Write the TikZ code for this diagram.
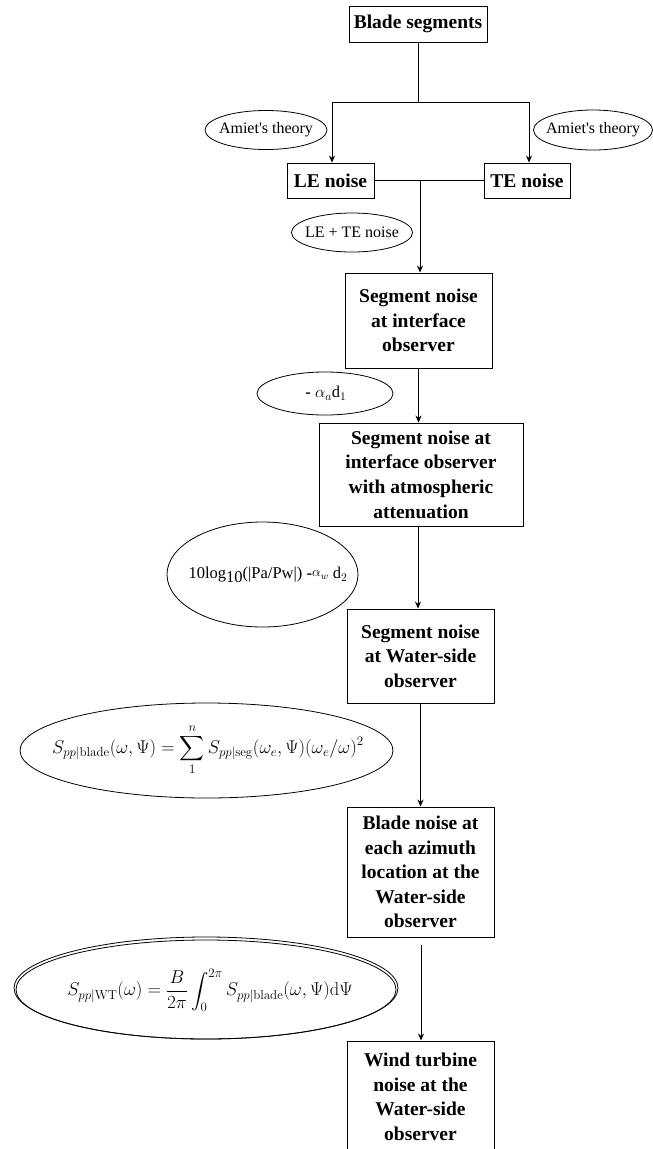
\documentclass[tikz,border=0pt]{standalone}
\usepackage{fix-cm}
\usepackage{exscale}
\usepackage[no-math]{fontspec}
\setmainfont{Liberation Serif}
\usetikzlibrary{arrows.meta,shapes.geometric}
\begin{document}
\begin{tikzpicture}[x=1pt,y=-1pt,
  box/.style={draw,line width=0.9pt,align=center,inner sep=0pt,
    font=\bfseries\fontsize{19.5}{24.6}\selectfont},
  lbl/.style={inner sep=0pt,font=\fontsize{16}{19}\selectfont},
  fml/.style={inner sep=0pt,font=\fontsize{18.5}{22}\selectfont},
  ell/.style={line width=0.8pt},
  conn/.style={line width=0.9pt},
  arr/.style={conn,-{Stealth[length=7pt,width=6pt]}}]
\useasboundingbox (0,0) rectangle (653,1149);
\clip (0,0) rectangle (653,1149);

% boxes
\node[box,minimum width=138pt,minimum height=36pt] (bs) at (418,24) {Blade segments};
\node[box,minimum width=87pt,minimum height=35pt] (le) at (330.5,180.5) {LE noise};
\node[box,minimum width=86pt,minimum height=35pt] (te) at (527,180.5) {TE noise};
\node[box,minimum width=147pt,minimum height=95pt] (s1) at (418.5,320.5) {Segment noise\\at interface\\observer};
\node[box,minimum width=204pt,minimum height=103pt] (s2) at (421,474.5) {Segment noise at\\interface observer\\with atmospheric\\attenuation};
\node[box,minimum width=147pt,minimum height=94pt] (s3) at (420.5,656) {Segment noise\\at Water-side\\observer};
\node[box,minimum width=147pt,minimum height=130pt] (bn) at (420.5,872) {Blade noise at\\each azimuth\\location at the\\Water-side\\observer};
\node[box,minimum width=147pt,minimum height=112pt] (wt) at (420.5,1097) {Wind turbine\\noise at the\\Water-side\\observer};

% labels in ellipses
\node[lbl] (am1) at (266,130) {Amiet\textquotesingle s theory};
\draw[ell] (am1.center) ellipse [x radius=61, y radius=19.5];
\node[lbl] (am2) at (593,130) {Amiet\textquotesingle s theory};
\draw[ell] (am2.center) ellipse [x radius=59.5, y radius=20];
\node[lbl] (lt) at (352,232.5) {LE + TE noise};
\draw[ell] (lt.center) ellipse [x radius=60.5, y radius=19.5];
\node[lbl,font=\fontsize{16.5}{19}\selectfont] (al) at (326,393.5) {{\bfseries -} $\alpha_a$d$_1$};
\draw[ell] (325,393.5) ellipse [x radius=68, y radius=21.5];
\node[lbl,font=\fontsize{16.5}{19}\selectfont] (lg) at (268,575) {10log\raisebox{-3.5pt}{10}(|Pa/Pw|) {\bfseries -}\raisebox{2pt}{\fontsize{14}{14}\selectfont$\alpha_w$} d$_2$};
\draw[ell] (262.5,574.5) ellipse [x radius=95.5, y radius=52.5];
\node[fml] (f1) at (208,750) {$\displaystyle S_{pp|\mathrm{blade}}(\omega,\Psi)=\sum_{1}^{n}S_{pp|\mathrm{seg}}(\omega_e,\Psi)(\omega_e/\omega)^2$};
\draw[ell] (206.5,750.5) ellipse [x radius=186.5, y radius=47.5];
\node[fml] (f2) at (210,990) {$\displaystyle S_{pp|\mathrm{WT}}(\omega)=\frac{B}{2\pi}\int_{0}^{2\pi}S_{pp|\mathrm{blade}}(\omega,\Psi)\mathrm{d}\Psi$};
\draw[ell] (206,988) ellipse [x radius=192, y radius=51];
\draw[ell] (206,989.5) ellipse [x radius=190, y radius=49.5];

% connectors
\coordinate (j1) at (bs.south |- 0,102);
\coordinate (jl) at (332,102);
\coordinate (jr) at (529,102);
\draw[conn] (bs.south) -- (j1);
\draw[conn] (jl) -- (jr);
\draw[arr] (jl) -- (jl |- le.north);
\draw[arr] (jr) -- (jr |- te.north);
\draw[conn] (le.east) -- (te.west);
\coordinate (j2) at (420,180.5);
\draw[arr] (j2) -- (j2 |- s1.north);
\draw[arr] (s1.south) -- (s1.south |- s2.north);
\coordinate (j3) at (418,0);
\draw[arr] (j3 |- s2.south) -- (j3 |- s3.north);
\draw[arr] (s3.south) -- (s3.south |- bn.north);
\coordinate (j4) at (421,945);
\draw[arr] (j4) -- (j4 |- wt.north);
\end{tikzpicture}
\end{document}
